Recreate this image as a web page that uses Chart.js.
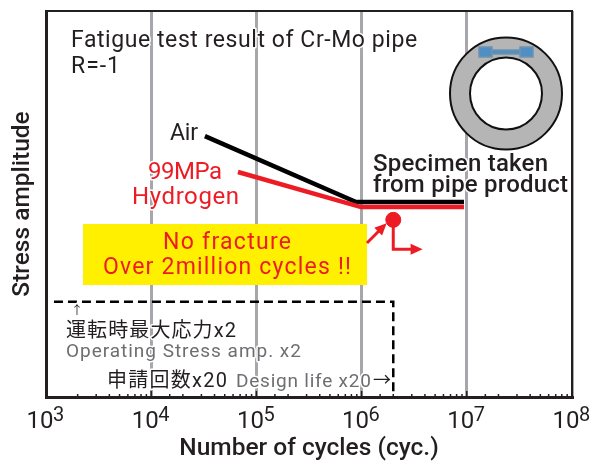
<!DOCTYPE html>
<html>
<head>
<meta charset="utf-8">
<title>Fatigue test result of Cr-Mo pipe</title>
<script src="https://cdn.jsdelivr.net/npm/chart.js@4/dist/chart.umd.min.js"></script>
<style>
  body { margin: 0; background: #fff; }
  canvas { display: block; }
</style>
</head>
<body>
<canvas id="fatigueChart" width="593" height="464"></canvas>
<script>
// values, stress amplitude has no scale so it is 0-100 of the axis height
const tickBase = '10';
const tickExponents = [3, 4, 5, 6, 7, 8];

const airCycles = [32400, 885000, 9400000];
const airStress = [67.6, 50.5, 50.5];

const hydrogenCycles = [66800, 986000, 9400000];
const hydrogenStress = [58.3, 49.2, 49.2];

const resultCycles = [2000000];
const resultStress = [45.9];

const runoutCycles = [2000000, 2000000, 2990000];
const runoutStress = [45.9, 38.3, 38.3];

const pointerCycles = [1125000, 1460000];
const pointerStress = [39.9, 43.0];

const designCycles = [1190, 2000000, 2000000];
const designStress = [24.7, 24.7, 0];

const INK = '#231f20';
const RED = '#ed1c24';
const GREY = '#6d6e71';
const FONT = 'Roboto, "Noto Sans CJK JP", sans-serif';

function toPoints(xs, ys) {
    return xs.map((x, i) => ({ x: x, y: ys[i] }));
}

function isDecade(value) {
    return Math.abs(Math.log10(value) - Math.round(Math.log10(value))) < 1e-6;
}

// text, left, baseline, width, size, colour, weight
const annotations = [
    ['Fatigue test result of Cr-Mo pipe', 71, 47, 346, 23, INK, 400],
    ['R=-1', 71, 73, 49, 23, INK, 400],
    ['Air', 170, 140, 28, 23, INK, 400],
    ['99MPa', 148, 179, 74, 24, RED, 400],
    ['Hydrogen', 132, 204, 107, 24, RED, 400],
    ['Specimen taken', 373, 171, 175, 24, INK, 500],
    ['from pipe product', 373, 192, 195, 24, INK, 500],
    ['No fracture', 163, 249, 128, 23, RED, 400],
    ['Over 2million cycles !!', 103, 274, 248, 23, RED, 400],
    ['↑', 71, 315, 9, 12, INK, 400],
    ['運転時最大応力x2', 66, 337, 170, 20, INK, 400],
    ['Operating Stress amp. x2', 66, 357, 235, 19, GREY, 400],
    ['申請回数x20', 107, 387, 120, 20, INK, 400],
    ['Design life x20', 236, 387, 135, 19, GREY, 400],
    ['→', 373, 386, 18, 18, INK, 400]
];

const backdropPlugin = {
    id: 'backdrop',
    beforeDatasetsDraw(chart) {
        const ctx = chart.ctx;
        ctx.save();
        ctx.fillStyle = '#fff000';
        ctx.fillRect(83, 224, 284, 61);
        ctx.restore();
    }
};

const decorPlugin = {
    id: 'decor',
    afterDatasetsDraw(chart) {
        const ctx = chart.ctx;
        const area = chart.chartArea;
        const xScale = chart.scales.x;
        const yScale = chart.scales.y;
        ctx.save();

        // top and right of the frame
        ctx.strokeStyle = INK;
        ctx.lineWidth = 2;
        ctx.beginPath();
        ctx.moveTo(area.left, area.top);
        ctx.lineTo(area.right, area.top);
        ctx.lineTo(area.right, area.bottom);
        ctx.stroke();

        // ticks point inwards
        ctx.lineWidth = 1.5;
        xScale.ticks.forEach(t => {
            const px = xScale.getPixelForValue(t.value);
            ctx.beginPath();
            ctx.moveTo(px, area.bottom);
            ctx.lineTo(px, area.bottom - (isDecade(t.value) ? 6 : 3));
            ctx.stroke();
        });

        // arrow heads follow the last segment of the line
        ctx.fillStyle = RED;
        [[runoutCycles, runoutStress], [pointerCycles, pointerStress]].forEach(([xs, ys]) => {
            const n = xs.length - 1;
            const x0 = xScale.getPixelForValue(xs[n - 1]);
            const y0 = yScale.getPixelForValue(ys[n - 1]);
            const x1 = xScale.getPixelForValue(xs[n]);
            const y1 = yScale.getPixelForValue(ys[n]);
            ctx.save();
            ctx.translate(x1, y1);
            ctx.rotate(Math.atan2(y1 - y0, x1 - x0));
            ctx.beginPath();
            ctx.moveTo(11, 0);
            ctx.lineTo(-1, -5.5);
            ctx.lineTo(-1, 5.5);
            ctx.closePath();
            ctx.fill();
            ctx.restore();
        });

        // pipe cross section
        ctx.fillStyle = '#b5b5b6';
        ctx.strokeStyle = '#111';
        ctx.lineWidth = 2;
        ctx.beginPath();
        ctx.arc(506, 93.5, 56, 0, Math.PI * 2);
        ctx.fill();
        ctx.stroke();
        ctx.fillStyle = '#fff';
        ctx.beginPath();
        ctx.arc(506, 93.5, 36, 0, Math.PI * 2);
        ctx.fill();
        ctx.stroke();

        // specimen cut from the wall
        ctx.fillStyle = '#4f8fc4';
        ctx.strokeStyle = '#6f93ae';
        ctx.lineWidth = 1.5;
        ctx.fillRect(479, 47, 13, 10);
        ctx.strokeRect(479, 47, 13, 10);
        ctx.fillRect(520, 47, 13, 10);
        ctx.strokeRect(520, 47, 13, 10);
        ctx.fillRect(492, 50, 28, 4);
        ctx.strokeRect(492, 50, 28, 4);

        // exponents of the decade labels
        ctx.fillStyle = INK;
        ctx.font = '20px ' + FONT;
        ctx.textAlign = 'left';
        ctx.textBaseline = 'alphabetic';
        tickExponents.forEach(e => {
            const px = xScale.getPixelForValue(Math.pow(10, e));
            ctx.fillText(String(e), px + 7, 421);
        });

        // free text stretched to its measured width, white halo where it crosses the grid
        ctx.lineJoin = 'round';
        annotations.forEach(([text, x, y, width, size, colour, weight]) => {
            ctx.font = weight + ' ' + size + 'px ' + FONT;
            ctx.letterSpacing = '0px';
            const extra = (width - ctx.measureText(text).width) / Math.max(text.length - 1, 1);
            ctx.letterSpacing = extra.toFixed(2) + 'px';
            const onYellow = text.startsWith('No fracture') || text.startsWith('Over');
            if (!onYellow) {
                ctx.strokeStyle = '#fff';
                ctx.lineWidth = 3;
                ctx.strokeText(text, x, y);
            }
            ctx.fillStyle = colour;
            ctx.fillText(text, x, y);
        });
        ctx.restore();
    }
};

new Chart(document.getElementById('fatigueChart').getContext('2d'), {
    type: 'scatter',
    data: {
        datasets: [
            {
                label: 'Design life',
                data: toPoints(designCycles, designStress),
                showLine: true,
                borderColor: '#000',
                borderWidth: 2.5,
                borderDash: [9, 5],
                pointRadius: 0
            },
            {
                label: '99MPa Hydrogen',
                data: toPoints(hydrogenCycles, hydrogenStress),
                showLine: true,
                borderColor: RED,
                borderWidth: 4.5,
                pointRadius: 0
            },
            {
                label: 'Air',
                data: toPoints(airCycles, airStress),
                showLine: true,
                borderColor: '#000',
                borderWidth: 4.5,
                pointRadius: 0
            },
            {
                label: 'Runout',
                data: toPoints(runoutCycles, runoutStress),
                showLine: true,
                borderColor: RED,
                borderWidth: 3,
                pointRadius: 0
            },
            {
                label: 'Pointer',
                data: toPoints(pointerCycles, pointerStress),
                showLine: true,
                borderColor: RED,
                borderWidth: 3,
                pointRadius: 0
            },
            {
                label: 'No fracture',
                data: toPoints(resultCycles, resultStress),
                backgroundColor: RED,
                borderColor: RED,
                pointRadius: 7.5
            }
        ]
    },
    options: {
        responsive: false,
        animation: false,
        layout: { padding: { top: 11, right: 21 } },
        plugins: { legend: { display: false }, tooltip: { enabled: false } },
        scales: {
            x: {
                type: 'logarithmic',
                min: 1000,
                max: 100000000,
                afterFit(scale) {
                    scale.height = 67;
                    scale.paddingRight = 0;
                    scale.paddingLeft = 0;
                },
                border: { color: INK, width: 3 },
                grid: {
                    color: c => (c.tick && isDecade(c.tick.value) ? '#a7a7ab' : 'transparent'),
                    lineWidth: 3,
                    drawTicks: false
                },
                ticks: {
                    color: INK,
                    font: { family: FONT, size: 24 },
                    padding: 11,
                    labelOffset: -6,
                    maxRotation: 0,
                    autoSkip: false,
                    callback: value => (isDecade(value) ? tickBase : '')
                },
                title: {
                    display: true,
                    text: 'Number of cycles (cyc.)',
                    color: INK,
                    font: { family: FONT, size: 24.5, weight: 500 },
                    padding: 0
                }
            },
            y: {
                min: 0,
                max: 100,
                afterFit(scale) { scale.width = 46; },
                border: { color: INK, width: 3 },
                grid: { display: false },
                ticks: { display: false },
                title: {
                    display: true,
                    text: 'Stress amplitude',
                    color: INK,
                    font: { family: FONT, size: 24.5, weight: 500 },
                    padding: { top: 8, bottom: 0 }
                }
            }
        }
    },
    plugins: [backdropPlugin, decorPlugin]
});
</script>
</body>
</html>
